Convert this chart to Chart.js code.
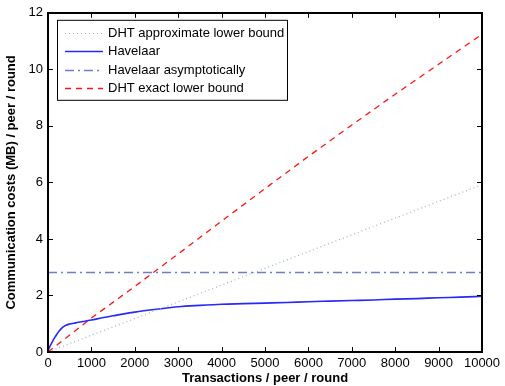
<!DOCTYPE html>
<html>
<head>
<meta charset="utf-8">
<script src="https://cdn.jsdelivr.net/npm/chart.js@4.4.0/dist/chart.umd.min.js"></script>
<style>
  html, body { margin: 0; padding: 0; background: #fff; }
  #wrap { width: 505px; height: 386px; }
</style>
</head>
<body>
<div id="wrap"><canvas id="c" width="505" height="386"></canvas></div>
<script>
// values
const xTicks = [0, 1000, 2000, 3000, 4000, 5000, 6000, 7000, 8000, 9000, 10000];
const yTicks = [0, 2, 4, 6, 8, 10, 12];

const approxX = [0, 10000];
const approxY = [0, 5.92];

const havelaarX = [0, 50, 100, 150, 200, 250, 300, 350, 400, 500, 600, 700, 850, 1000, 1250, 1500, 1750, 2000, 2500, 3000, 3500, 4000, 4500, 5000, 5500, 6000, 6500, 7000, 7500, 8000, 8500, 9000, 9500, 10000];
const havelaarY = [0.05, 0.22, 0.36, 0.5, 0.62, 0.73, 0.82, 0.89, 0.94, 0.99, 1.02, 1.05, 1.09, 1.13, 1.21, 1.28, 1.35, 1.41, 1.51, 1.6, 1.65, 1.69, 1.71, 1.73, 1.75, 1.78, 1.80, 1.82, 1.84, 1.87, 1.89, 1.92, 1.94, 1.97];

const asymX = [0, 10000];
const asymY = [2.81, 2.81];

const exactX = [0, 1000, 2000, 3000, 4000, 5000, 6000, 7000, 8000, 9000, 10000];
const exactY = [0, 1.2, 2.32, 3.47, 4.63, 5.78, 6.92, 8.03, 9.12, 10.18, 11.24];

const labels = ['DHT approximate lower bound', 'Havelaar', 'Havelaar asymptotically', 'DHT exact lower bound'];

function pts(xs, ys) { return xs.map((x, i) => ({ x: x, y: ys[i] })); }

const FONT = 'Liberation Sans, Arial, Helvetica, sans-serif';

// inward ticks + box, like the original figure
const boxPlugin = {
  id: 'box',
  afterDraw(chart) {
    const ctx = chart.ctx, a = chart.chartArea;
    const xs = chart.scales.x, ys = chart.scales.y;
    ctx.save();
    ctx.strokeStyle = '#000';
    ctx.lineWidth = 1;
    ctx.beginPath();
    xTicks.forEach(v => {
      const px = Math.round(xs.getPixelForValue(v)) + 0.5;
      ctx.moveTo(px, a.bottom); ctx.lineTo(px, a.bottom - 5);
      ctx.moveTo(px, a.top); ctx.lineTo(px, a.top + 5);
    });
    yTicks.forEach(v => {
      const py = Math.round(ys.getPixelForValue(v)) + 0.5;
      ctx.moveTo(a.left, py); ctx.lineTo(a.left + 5, py);
      ctx.moveTo(a.right, py); ctx.lineTo(a.right - 5, py);
    });
    ctx.stroke();
    ctx.lineWidth = 2;
    ctx.strokeRect(Math.round(a.left), Math.round(a.top), Math.round(a.right - a.left), Math.round(a.bottom - a.top));
    ctx.restore();
  }
};

// legend box inside the plot, upper left
const legendPlugin = {
  id: 'boxLegend',
  afterDraw(chart) {
    const ctx = chart.ctx, a = chart.chartArea;
    const x0 = a.left + 9, y0 = a.top + 7, w = 230, rowH = 18.5;
    const h = rowH * chart.data.datasets.length + 6;
    ctx.save();
    ctx.fillStyle = '#fff';
    ctx.fillRect(x0, y0, w, h);
    ctx.strokeStyle = '#000';
    ctx.lineWidth = 1;
    ctx.strokeRect(x0 + 0.5, y0 + 0.5, w, h);
    ctx.font = '13px ' + FONT;
    ctx.textBaseline = 'middle';
    chart.data.datasets.forEach((ds, i) => {
      const cy = Math.round(y0 + 13 + i * rowH) + 0.5;
      ctx.strokeStyle = ds.borderColor;
      ctx.lineWidth = ds.borderWidth;
      ctx.setLineDash(ds.borderDash || []);
      ctx.beginPath();
      ctx.moveTo(x0 + 8, cy);
      ctx.lineTo(x0 + 46, cy);
      ctx.stroke();
      ctx.setLineDash([]);
      ctx.fillStyle = '#000';
      ctx.fillText(ds.label, x0 + 51, cy);
    });
    ctx.restore();
  }
};

new Chart(document.getElementById('c'), {
  type: 'line',
  data: {
    datasets: [
      { label: labels[0], data: pts(approxX, approxY), borderColor: 'rgb(150,185,175)', borderWidth: 1.2, borderDash: [1, 3] },
      { label: labels[1], data: pts(havelaarX, havelaarY), borderColor: 'rgb(40,40,250)', borderWidth: 1.6, cubicInterpolationMode: 'monotone' },
      { label: labels[2], data: pts(asymX, asymY), borderColor: 'rgb(110,125,200)', borderWidth: 1.6, borderDash: [9, 4, 2, 4] },
      { label: labels[3], data: pts(exactX, exactY), borderColor: 'rgb(255,20,20)', borderWidth: 1.3, borderDash: [6, 5] }
    ]
  },
  options: {
    responsive: false,
    animation: false,
    layout: { padding: { top: 10, right: 23, left: 0, bottom: 0 } },
    elements: { point: { radius: 0 }, line: { tension: 0, fill: false } },
    plugins: { legend: { display: false }, tooltip: { enabled: false } },
    scales: {
      x: {
        type: 'linear', min: 0, max: 10000,
        afterBuildTicks: s => { s.ticks = xTicks.map(v => ({ value: v })); },
        afterFit: s => { s.height = 34; },
        grid: { display: false, drawTicks: false, tickLength: 0 }, border: { display: false },
        ticks: { color: '#000', font: { family: FONT, size: 13 }, padding: 4, maxRotation: 0, autoSkip: false, callback: v => String(v) },
        title: { display: true, text: 'Transactions / peer / round', color: '#000', font: { family: FONT, size: 13, weight: 'bold' }, padding: { top: 0, bottom: 0 } }
      },
      y: {
        type: 'linear', min: 0, max: 12,
        afterBuildTicks: s => { s.ticks = yTicks.map(v => ({ value: v })); },
        afterFit: s => { s.width = 48; },
        grid: { display: false, drawTicks: false, tickLength: 0 }, border: { display: false },
        ticks: { color: '#000', font: { family: FONT, size: 13 }, padding: 5, autoSkip: false, callback: v => String(v) },
        title: { display: true, text: 'Communication costs (MB) / peer / round', color: '#000', font: { family: FONT, size: 13, weight: 'bold' }, padding: { top: 4, bottom: 2 } }
      }
    }
  },
  plugins: [boxPlugin, legendPlugin]
});
</script>
</body>
</html>
